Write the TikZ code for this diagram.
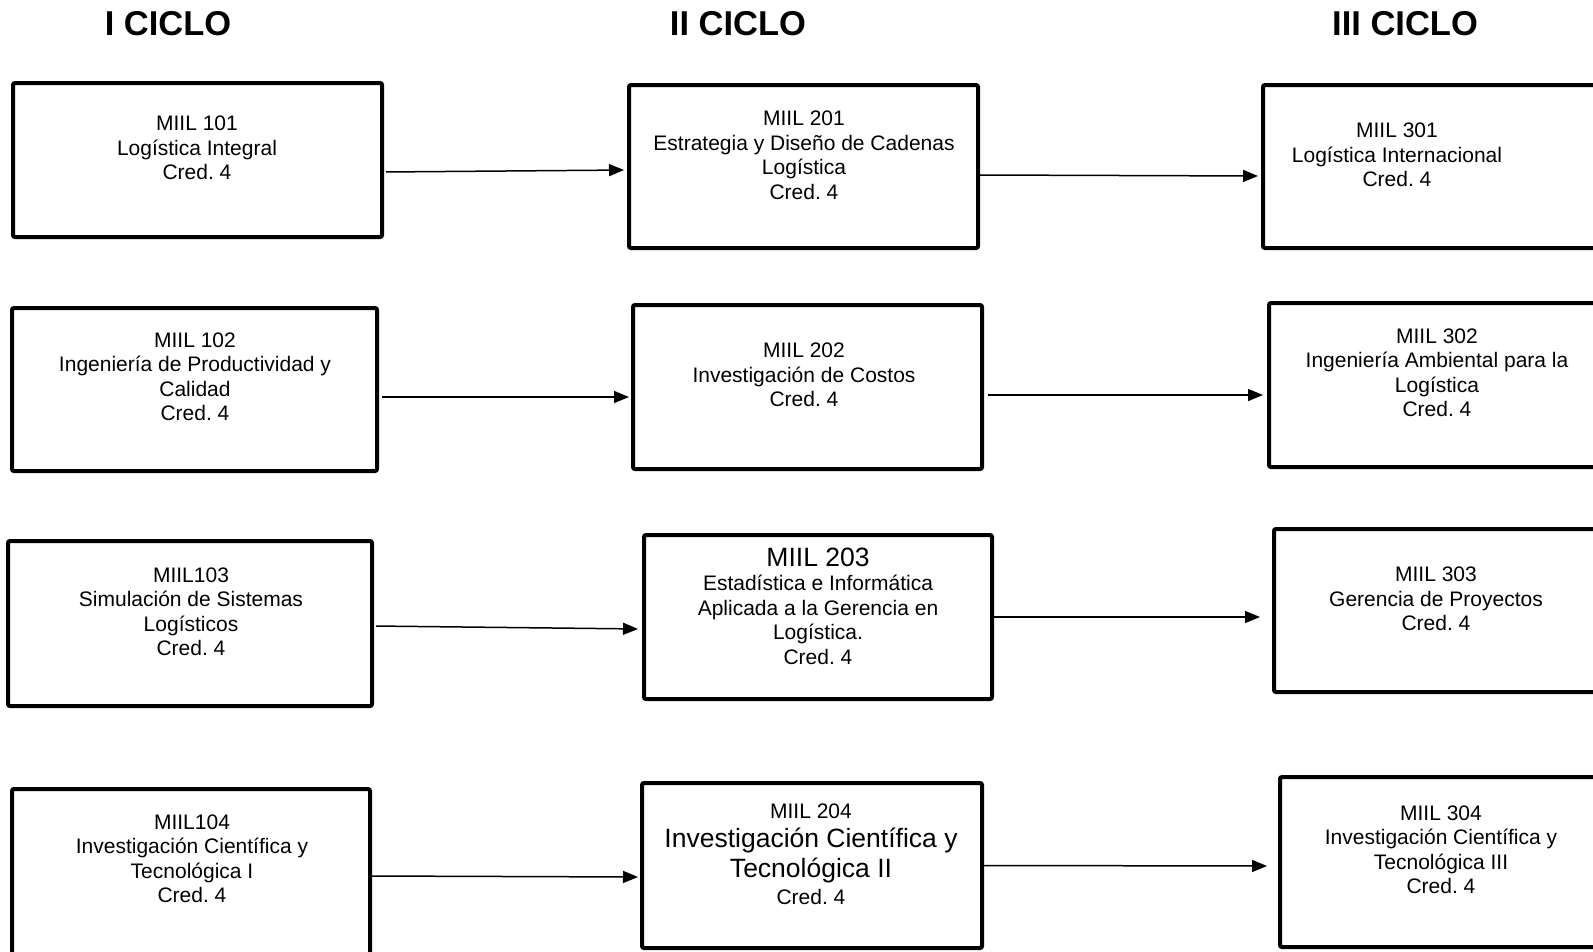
\documentclass[tikz,border=0pt]{standalone}
\usepackage{fontspec}
\setmainfont{Liberation Sans}
\usetikzlibrary{arrows.meta}
\frenchspacing

\begin{document}
\begin{tikzpicture}[x=1pt,y=-1pt,
    caja/.style={draw,line width=4pt,rounded corners=2pt,rectangle},
    texto/.style={align=center,font=\fontsize{21}{24.5}\selectfont},
    titulo/.style={font=\fontsize{34.5}{38}\selectfont\bfseries},
    flecha/.style={line width=1.5pt,-{Triangle[length=15pt,width=12pt]}}]
    \useasboundingbox (0,0) rectangle (1593,951);

    \node[titulo] (t1) at (168,24) {I CICLO};
    \node[titulo] (t2) at (738,24) {II CICLO};
    \node[titulo] (t3) at (1405,24) {III CICLO};

    \node[caja,minimum width=369pt,minimum height=154pt] (c101) at (197.5,160) {};
    \node[caja,minimum width=365pt,minimum height=163pt] (c102) at (194.5,389.5) {};
    \node[caja,minimum width=364pt,minimum height=165pt] (c103) at (190,623.5) {};
    \node[caja,minimum width=358pt,minimum height=176pt] (c104) at (191,877) {};

    \node[caja,minimum width=349pt,minimum height=163pt] (c201) at (803.5,166.5) {};
    \node[caja,minimum width=349pt,minimum height=164pt] (c202) at (807.5,387) {};
    \node[caja,minimum width=348pt,minimum height=164pt] (c203) at (818,617) {};
    \node[caja,minimum width=340pt,minimum height=165pt] (c204) at (812,865.5) {};

    \node[caja,minimum width=347pt,minimum height=163pt] (c301) at (1436.5,166.5) {};
    \node[caja,minimum width=341pt,minimum height=164pt] (c302) at (1439.5,385) {};
    \node[caja,minimum width=336pt,minimum height=163pt] (c303) at (1442,610.5) {};
    \node[caja,minimum width=330pt,minimum height=170pt] (c304) at (1445,862) {};

    \node[texto] (x101) at (197,148) {MIIL 101\\Logística Integral\\Cred. 4};
    \node[texto] (x102) at (195,377) {MIIL 102\\Ingeniería de Productividad y\\Calidad\\Cred. 4};
    \node[texto] (x103) at (191,612) {MIIL103\\Simulación de Sistemas\\Logísticos\\Cred. 4};
    \node[texto] (x104) at (192,859) {MIIL104\\Investigación Científica y\\Tecnológica I\\Cred. 4};

    \node[texto] (x201) at (804,155.5) {MIIL 201\\Estrategia y Diseño de Cadenas\\Logística\\Cred. 4};
    \node[texto] (x202) at (804,375) {MIIL 202\\Investigación de Costos\\Cred. 4};
    \node[texto] (x203) at (818,606) {{\fontsize{26.5}{28}\selectfont MIIL 203}\\Estadística e Informática\\Aplicada a la Gerencia en\\Logística.\\Cred. 4};
    \node[texto] (x204) at (811,854) {MIIL 204\\[5pt]{\fontsize{26.5}{30}\selectfont Investigación Científica y}\\[4pt]{\fontsize{26.5}{30}\selectfont Tecnológica II}\\[2pt]Cred. 4};

    \node[texto] (x301) at (1397,155) {MIIL 301\\Logística Internacional\\Cred. 4};
    \node[texto] (x302) at (1437,373) {MIIL 302\\Ingeniería Ambiental para la\\Logística\\Cred. 4};
    \node[texto] (x303) at (1436,599) {MIIL 303\\Gerencia de Proyectos\\Cred. 4};
    \node[texto] (x304) at (1441,850) {MIIL 304\\Investigación Científica y\\Tecnológica III\\Cred. 4};

    \draw[flecha,shorten <=2pt,shorten >=3pt] ([yshift=-12pt]c101.east) -- ([yshift=-3.5pt]c201.west);
    \draw[flecha,shorten >=3pt] ([yshift=-8.5pt]c201.east) -- ([yshift=-9.5pt]c301.west);
    \draw[flecha,shorten <=3pt,shorten >=2pt] ([yshift=-7.5pt]c102.east) -- ([yshift=-10pt]c202.west);
    \draw[flecha,shorten <=4pt,shorten >=4pt] ([yshift=-8pt]c202.east) -- ([yshift=-10pt]c302.west);
    \draw[flecha,shorten <=2pt,shorten >=4pt] ([yshift=-2.5pt]c103.east) -- ([yshift=-12pt]c203.west);
    \draw[flecha,shorten >=12pt] (c203.east) -- ([yshift=-6.5pt]c303.west);
    \draw[flecha,shorten >=2pt] ([yshift=1pt]c104.east) -- ([yshift=-11.5pt]c204.west);
    \draw[flecha,shorten >=11pt] (c204.east) -- ([yshift=-4pt]c304.west);
\end{tikzpicture}
\end{document}
